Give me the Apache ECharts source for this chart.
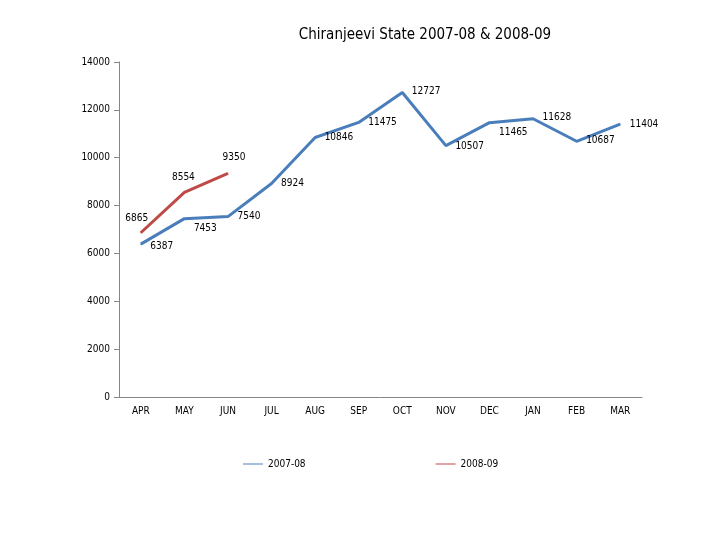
<!DOCTYPE html>
<html><head><meta charset="utf-8">
<script src="https://cdn.jsdelivr.net/npm/echarts@6/dist/echarts.min.js"></script>
<style>html,body{margin:0;padding:0;background:#fff}#c{width:720px;height:540px}</style>
</head><body><div id="c"></div>
<script>
const categories = ['APR','MAY','JUN','JUL','AUG','SEP','OCT','NOV','DEC','JAN','FEB','MAR'];
const s2007 = [6387,7453,7540,8924,10846,11475,12727,10507,11465,11628,10687,11404];
const s2008 = [6865,8554,9350];
const seriesNames = ['2007-08','2008-09'];
const font = '"Liberation Sans Narrow", "DejaVu Sans Condensed", sans-serif';

const blueLabelOffsets = [[0,2],[0,10],[0,0],[0,0],[0,0],[0,0],[0,-1],[0,1],[0,10],[0,-1],[0,-1],[0,0]];
const redLabelOffsets = [[-4,-4],[-1,-4],[6,-5]];

const chart = echarts.init(document.getElementById('c'));
chart.setOption({
  animation:false,
  title:{text:'Chiranjeevi State 2007-08 & 2008-09', left:420, top:23, textAlign:'center',
    textStyle:{fontFamily:font,fontSize:15,fontWeight:'normal',color:'#000'}},
  legend:{bottom:66, left:238, itemGap:130, itemWidth:20, itemHeight:1, icon:'rect',
    textStyle:{fontFamily:font,fontSize:10,color:'#000'}, data:seriesNames},
  grid:{left:119, right:78, top:62, bottom:143},
  xAxis:{type:'category', data:categories, boundaryGap:true,
    axisLine:{lineStyle:{color:'#868686'}}, axisTick:{lineStyle:{color:'#868686'},length:5},
    axisLabel:{fontFamily:font,fontSize:10,color:'#000',margin:9}},
  yAxis:{type:'value', min:0, max:14000, interval:2000,
    axisLine:{show:true,lineStyle:{color:'#868686'}}, axisTick:{show:true,length:5,lineStyle:{color:'#868686'}},
    splitLine:{show:false},
    axisLabel:{fontFamily:font,fontSize:10,color:'#000',margin:9,formatter:v=>String(v)}},
  series:[
    {name:seriesNames[0], type:'line', data:s2007.map((v,i)=>({value:v,label:{offset:blueLabelOffsets[i]}})),
      symbol:'circle', symbolSize:1, showSymbol:true, lineStyle:{width:3,color:'#4a7ebb'}, itemStyle:{color:'#4a7ebb'},
      label:{show:true,position:'right',distance:9,fontFamily:font,fontSize:10,color:'#000'}},
    {name:seriesNames[1], type:'line', data:s2008.map((v,i)=>({value:v,label:{offset:redLabelOffsets[i]}})),
      symbol:'circle', symbolSize:1, showSymbol:true, lineStyle:{width:3,color:'#be4b48'}, itemStyle:{color:'#be4b48'},
      label:{show:true,position:'top',distance:5,fontFamily:font,fontSize:10,color:'#000'}}
  ]
});
</script></body></html>
